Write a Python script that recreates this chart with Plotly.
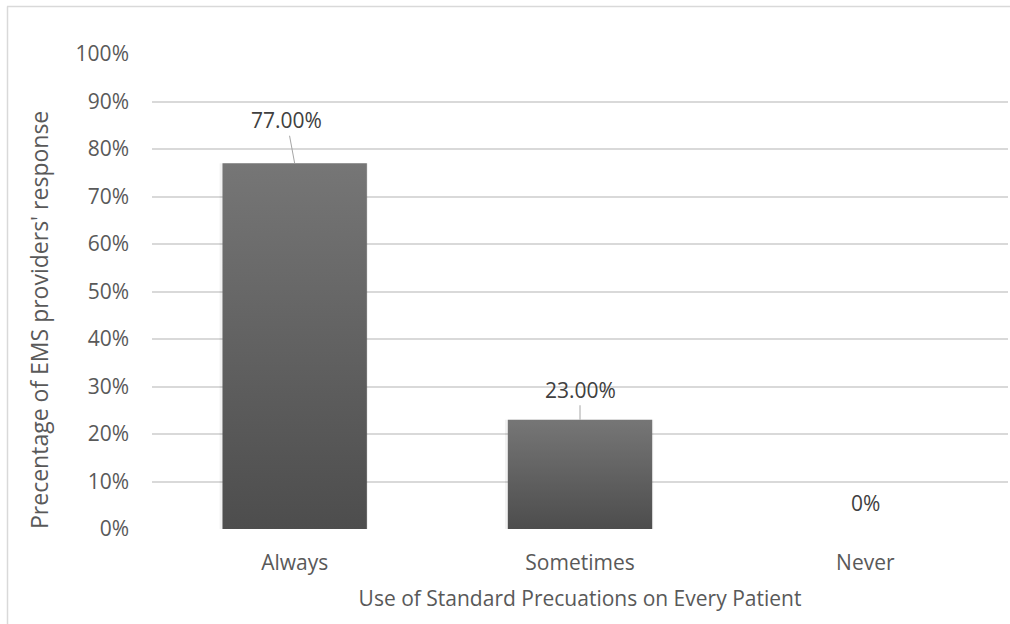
import plotly.graph_objects as go

# Survey responses: use of standard precautions on every patient
categories = ["Always", "Sometimes", "Never"]
shares = [0.77, 0.23, 0.0]
share_labels = ["77.00%", "23.00%", "0%"]
y_ticks = [0, 0.1, 0.2, 0.3, 0.4, 0.5, 0.6, 0.7, 0.8, 0.9, 1.0]
y_tick_labels = ["0%", "10%", "20%", "30%", "40%", "50%", "60%", "70%", "80%", "90%", "100%"]

FONT = "Open Sans"
TEXT = "#595959"
HALF_W = 0.253  # half bar width in category units

# plot-area geometry in pixels, used to place items outside the axes
PLOT_L, PLOT_R, PLOT_T, PLOT_B = 152, 1008, 54, 529
PW, PH = PLOT_R - PLOT_L, PLOT_B - PLOT_T


def px_x(px):
    return (px - PLOT_L) / PW


def px_y(py):
    return (PLOT_B - py) / PH


fig = go.Figure()

# Bars as filled outlines so each can carry its own vertical gradient
for i, (cat, v) in enumerate(zip(categories, shares)):
    if v <= 0:
        continue
    x0, x1 = i - HALF_W, i + HALF_W
    # soft drop shadow
    fig.add_trace(go.Scatter(
        x=[x0 - 0.01, x0 - 0.01, x1 + 0.004, x1 + 0.004, x0 - 0.01],
        y=[-0.007, v, v, -0.007, -0.007],
        fill="toself", mode="lines", line=dict(width=0),
        fillcolor="rgba(0,0,0,0.05)", hoverinfo="skip", showlegend=False,
    ))
    fig.add_trace(go.Scatter(
        x=[x0, x0, x1, x1, x0],
        y=[0, v, v, 0, 0],
        fill="toself", mode="lines", line=dict(width=0),
        fillgradient=dict(type="vertical",
                          colorscale=[[0, "#4d4d4d"], [1, "#767676"]]),
        name=cat, hoverinfo="skip", showlegend=False,
    ))

# Data labels with leader lines
offsets = [(-8, -43), (0, -30), None]
for i, (v, lab, off) in enumerate(zip(shares, share_labels, offsets)):
    if off is None:
        fig.add_annotation(x=i, y=v, text=lab, showarrow=False, yshift=26,
                           font=dict(family=FONT, size=21, color="#404040"))
    else:
        fig.add_annotation(x=i, y=v, text=lab, showarrow=True, arrowhead=0,
                           arrowwidth=1, arrowcolor="#a6a6a6", standoff=0,
                           ax=off[0], ay=off[1],
                           font=dict(family=FONT, size=21, color="#404040"))

# Vertical axis title
fig.add_annotation(xref="paper", yref="paper", x=px_x(39), y=px_y(320),
                   text="Precentage of EMS providers' response", textangle=-90,
                   showarrow=False, xanchor="center", yanchor="middle",
                   font=dict(family=FONT, size=23, color=TEXT))

# Chart-area border (left and top edges)
fig.add_shape(type="line", xref="paper", yref="paper",
              x0=px_x(7.5), x1=px_x(7.5), y0=px_y(624), y1=px_y(6.5),
              line=dict(color="#d9d9d9", width=1.5))
fig.add_shape(type="line", xref="paper", yref="paper",
              x0=px_x(7), x1=px_x(1010), y0=px_y(6.5), y1=px_y(6.5),
              line=dict(color="#d9d9d9", width=1.5))

fig.update_layout(
    width=1010, height=624,
    margin=dict(l=PLOT_L, r=1010 - PLOT_R, t=PLOT_T, b=624 - PLOT_B),
    paper_bgcolor="white", plot_bgcolor="white",
    font=dict(family=FONT, size=21, color=TEXT),
    showlegend=False,
)
fig.update_xaxes(
    range=[-0.5, 2.5], tickvals=[0, 1, 2], ticktext=categories,
    showgrid=False, zeroline=False, showline=False, ticks="",
    ticklabelstandoff=19,
    tickfont=dict(family=FONT, size=21, color=TEXT),
    title=dict(text="Use of Standard Precuations on Every Patient",
               font=dict(family=FONT, size=21, color=TEXT), standoff=16),
)
fig.update_yaxes(
    range=[0, 1], tickvals=y_ticks, ticktext=y_tick_labels,
    showgrid=True, gridcolor="#d9d9d9", gridwidth=1.5,
    zeroline=False, showline=False, ticks="",
    ticklabelstandoff=22,
    tickfont=dict(family=FONT, size=21, color=TEXT),
)

fig.write_html("out.html")
